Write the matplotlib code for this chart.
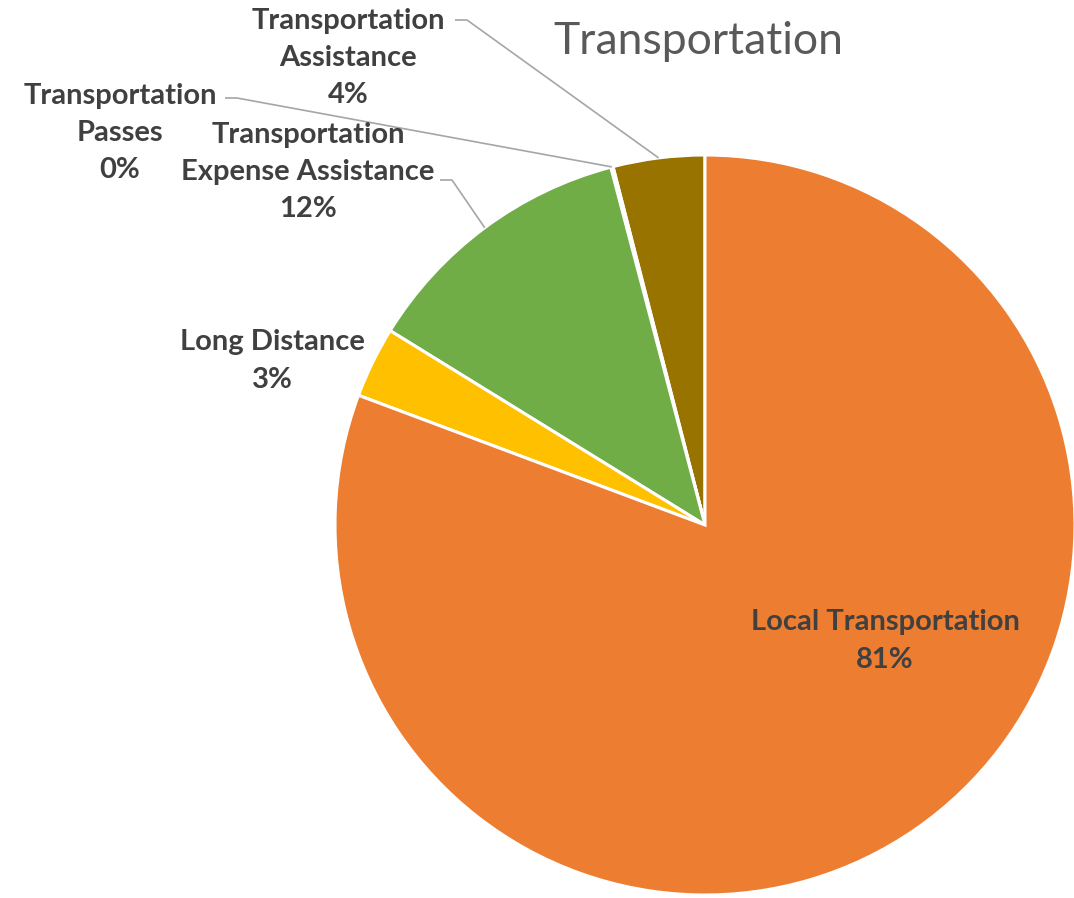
import numpy as np
import matplotlib.pyplot as plt
import matplotlib as mpl

# --- Data -------------------------------------------------------
categories = [
    "Transportation\nAssistance",
    "Transportation\nPasses",
    "Transportation\nExpense Assistance",
    "Long Distance",
    "Local Transportation",
]
shares = [4.0, 0.1, 12.1, 3.1, 80.7]
colors = ["#997300", "#255E91", "#70AD47", "#FFC000", "#ED7D31"]

mpl.rcParams["font.family"] = ["Lato", "DejaVu Sans"]

# pixel helpers (pie centre at 705,525, radius 370 px)
CX, CY, R = 705, 525, 370


def px(x, y):
    return ((x - CX) / R, (CY - y) / R)


fig = plt.figure(figsize=(10.74, 8.98), dpi=100)
ax = fig.add_axes([0, 0, 1, 1])

wedges, _ = ax.pie(
    shares,
    colors=colors,
    startangle=90,
    counterclock=True,
    radius=1,
    wedgeprops=dict(edgecolor="white", linewidth=2.2),
)

ax.set_xlim(-CX / R, (1074 - CX) / R)
ax.set_ylim((CY - 898) / R, CY / R)
ax.set_aspect("equal")
ax.axis("off")

# label positions (text centre, px) and optional leader elbow
label_pos = [(348, 58), (120, 133), (308, 172), (272, 361), (885, 641)]
elbows = [(467, 20), (237, 98), (452, 180), None, None]

total = sum(shares)
for w, name, val, pos, elb in zip(wedges, categories, shares, label_pos, elbows):
    theta = np.deg2rad((w.theta1 + w.theta2) / 2)
    pct = round(val / total * 100)
    ax.text(*px(*pos), f"{name}\n{pct}%", ha="center", va="center",
            fontsize=21, fontweight="bold", color="#404040", linespacing=1.53)
    if elb is not None:
        ex, ey = px(*elb)
        ax.plot([ex - 12 / R, ex, np.cos(theta)], [ey, ey, np.sin(theta)],
                color="#a6a6a6", lw=1.2, solid_capstyle="butt")

ax.text(*px(698, 42), "Transportation", ha="center", va="center",
        fontsize=32, color="#595959")

fig.savefig("out.png", dpi=100)
